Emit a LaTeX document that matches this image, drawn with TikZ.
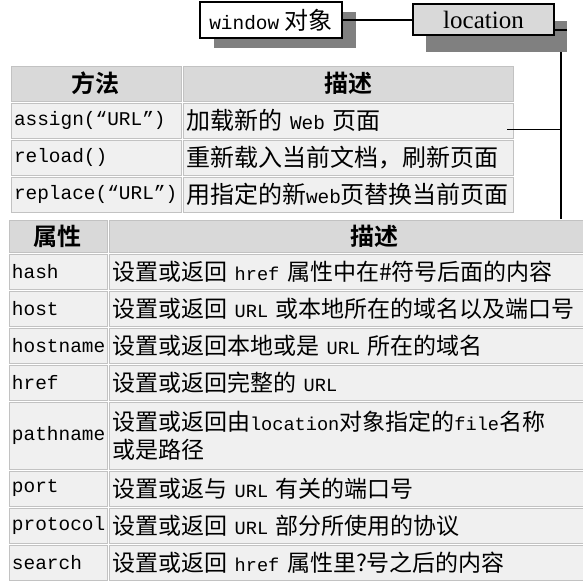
\documentclass[tikz,border=0pt]{standalone}
\usepackage{fontspec}
\setmainfont{Noto Sans CJK SC}[BoldFont={Noto Sans CJK SC Bold}]
\setmonofont{Liberation Mono}[Scale=0.81]
\newfontfamily\serifloc{Liberation Serif}
\usetikzlibrary{positioning,shadows}
\definecolor{cellbg}{HTML}{F0F0F0}
\definecolor{headbg}{HTML}{D9D9D9}
\definecolor{cellline}{HTML}{C2C2C2}
\definecolor{shadowgray}{HTML}{808080}

\begin{document}
\begin{tikzpicture}[x=1pt,y=-1pt,
    every node/.style={font=\fontsize{24}{29}\selectfont},
    cell/.style 2 args={draw=cellline,fill=cellbg,line width=1pt,inner xsep=3pt,inner ysep=0pt,
        outer sep=1pt,text width=#1,minimum height=#2,align=left},
    head/.style 2 args={cell={#1}{#2},fill=headbg,align=center,font=\fontsize{24}{29}\selectfont\bfseries},
    pdesc/.style={cell={524pt}{#1},font=\fontsize{23}{28.5}\selectfont},
    objbox/.style={draw=black,line width=1.2pt,inner sep=0pt},
    wire/.style={draw=black,line width=1.2pt}]
        \useasboundingbox(0,0)rectangle(583,584);
        \clip(0,0)rectangle(583,584);

        % objects
        \node[objbox,fill=white,minimum width=142pt,minimum height=36pt,
            drop shadow={shadow xshift=14pt,shadow yshift=-10pt,fill=shadowgray,opacity=1}]
            (win)at(271,20){\texttt{window} 对象};
        \node[objbox,fill=headbg,minimum width=141pt,minimum height=31pt,
            font=\serifloc\fontsize{25}{30}\selectfont,
            drop shadow={shadow xshift=13pt,shadow yshift=-17pt,fill=shadowgray,opacity=1}]
            (loc)at(483.5,19.5){location};

        % methods
        \node[head={164pt}{35pt},anchor=north west](mH1)at(10,65){方法};
        \node[head={324pt}{35pt},right=0pt of mH1](mH2){描述};
        \node[cell={164pt}{35pt},below=0pt of mH1](mAssign){\texttt{assign(“URL”)}};
        \node[cell={324pt}{35pt},right=0pt of mAssign](mAssignD){加载新的 \texttt{Web} 页面};
        \node[cell={164pt}{35pt},below=0pt of mAssign](mReload){\texttt{reload()}};
        \node[cell={324pt}{35pt},right=0pt of mReload](mReloadD){重新载入当前文档，刷新页面};
        \node[cell={164pt}{35pt},below=0pt of mReload](mReplace){\texttt{replace(“URL”)}};
        \node[cell={324pt}{35pt},right=0pt of mReplace](mReplaceD){用指定的新\texttt{web}页替换当前页面};

        % properties
        \node[head={92pt}{32pt},anchor=north west](pH1)at(8,219){属性};
        \node[head={524pt}{32pt},right=0pt of pH1](pH2){描述};
        \node[cell={92pt}{35pt},below=0pt of pH1](pHash){\texttt{hash}};
        \node[pdesc=35pt,right=0pt of pHash](pHashD){设置或返回 \texttt{href} 属性中在\#符号后面的内容};
        \node[cell={92pt}{35pt},below=0pt of pHash](pHost){\texttt{host}};
        \node[pdesc=35pt,right=0pt of pHost](pHostD){设置或返回 \texttt{URL} 或本地所在的域名以及端口号};
        \node[cell={92pt}{35pt},below=0pt of pHost](pHostname){\texttt{hostname}};
        \node[pdesc=35pt,right=0pt of pHostname](pHostnameD){设置或返回本地或是 \texttt{URL} 所在的域名};
        \node[cell={92pt}{35pt},below=0pt of pHostname](pHref){\texttt{href}};
        \node[pdesc=35pt,right=0pt of pHref](pHrefD){设置或返回完整的 \texttt{URL}};
        \node[cell={92pt}{67pt},below=0pt of pHref](pPath){\texttt{pathname}};
        \node[pdesc=67pt,right=0pt of pPath](pPathD){设置或返回由\texttt{location}对象指定的\texttt{file}名称\\或是路径};
        \node[cell={92pt}{35pt},below=0pt of pPath](pPort){\texttt{port}};
        \node[pdesc=35pt,right=0pt of pPort](pPortD){设置或返与 \texttt{URL} 有关的端口号};
        \node[cell={92pt}{35pt},below=0pt of pPort](pProto){\texttt{protocol}};
        \node[pdesc=35pt,right=0pt of pProto](pProtoD){设置或返回 \texttt{URL} 部分所使用的协议};
        \node[cell={92pt}{35pt},below=0pt of pProto](pSearch){\texttt{search}};
        \node[pdesc=35pt,right=0pt of pSearch](pSearchD){设置或返回 \texttt{href} 属性里?号之后的内容};

        % connectors
        \coordinate(locout)at(567,30);
        \coordinate(joint)at(561,52);
        \coordinate(tap)at([xshift=-7pt,yshift=-9pt]mAssignD.east);
        \draw[wire](win.east)--(win.east-|loc.west);
        \draw[wire](loc.east|-locout)--(locout);
        \draw[wire](joint)--(joint|-pH2.north);
        \draw[wire](tap)--(tap-|joint);
    \end{tikzpicture}
\end{document}
